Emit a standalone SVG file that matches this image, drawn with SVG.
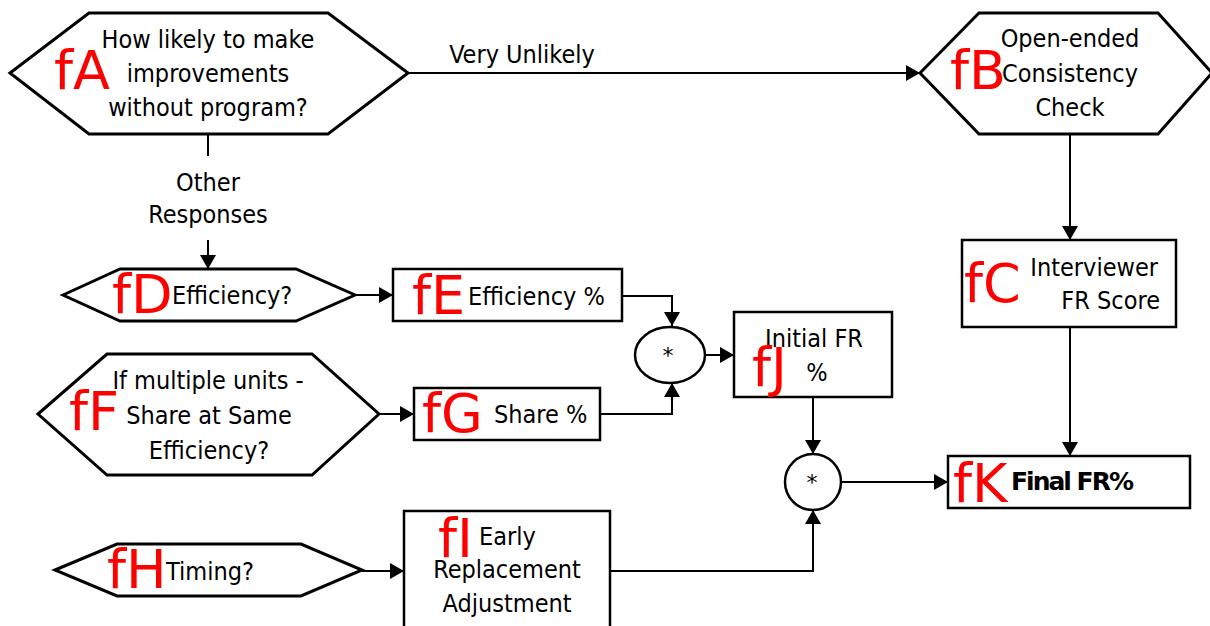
<svg xmlns="http://www.w3.org/2000/svg" width="1210" height="626" viewBox="0 0 1210 626">
  <style>
    .shape { fill: #ffffff; stroke: #000000; stroke-width: 3; stroke-linejoin: miter; }
    .box { fill: #ffffff; stroke: #000000; stroke-width: 2.5; }
    .op { fill: #ffffff; stroke: #000000; stroke-width: 2.5; }
    .wire { fill: none; stroke: #000000; stroke-width: 2; }
    .arrow { fill: none; stroke: #000000; stroke-width: 2; marker-end: url(#head); }
    .txt { font-family: "DejaVu Sans Condensed", "DejaVu Sans", sans-serif; font-stretch: condensed; font-size: 25px; fill: #000000; }
    .mid { text-anchor: middle; }
    .tag { font-family: "DejaVu Sans", sans-serif; font-size: 54px; fill: #ff0000; }
    .bold { font-family: "DejaVu Sans", sans-serif; font-weight: bold; font-size: 25px; letter-spacing: -2px; fill: #000000; }
    .star { font-family: "DejaVu Sans", sans-serif; font-size: 22px; text-anchor: middle; fill: #000000; }
  </style>
  <defs>
    <marker id="head" markerUnits="userSpaceOnUse" markerWidth="14" markerHeight="16" refX="14" refY="8" orient="auto">
      <path d="M0,0 L14,8 L0,16 Z" fill="#000000"/>
    </marker>
  </defs>

  <rect width="1210" height="626" fill="#ffffff"/>

  <!-- connectors -->
  <g id="connectors">
    <path class="arrow" d="M408,73 L920,73"/>
    <path class="wire" d="M208,134 L208,156"/>
    <path class="arrow" d="M208,240 L208,269"/>
    <path class="arrow" d="M1070,134 L1070,240"/>
    <path class="arrow" d="M1070,327 L1070,456"/>
    <path class="arrow" d="M355,295 L393,295"/>
    <path class="arrow" d="M622,296 L672,296 L672,326"/>
    <path class="arrow" d="M379,414 L414,414"/>
    <path class="arrow" d="M600,414 L672,414 L672,383"/>
    <path class="arrow" d="M705,355 L734,355"/>
    <path class="arrow" d="M813,397 L813,454"/>
    <path class="arrow" d="M362,571 L404,571"/>
    <path class="arrow" d="M610,571 L813,571 L813,510"/>
    <path class="arrow" d="M842,482 L948,482"/>
    <text class="txt mid" x="522" y="63">Very Unlikely</text>
    <text class="txt mid" x="208" y="191">Other</text>
    <text class="txt mid" x="208" y="223">Responses</text>
  </g>

  <!-- fA: decision -->
  <g id="fA">
    <polygon class="shape" points="10,73 89,13 328,13 408,73 328,134 89,134"/>
    <text class="tag" x="54" y="89">fA</text>
    <text class="txt mid" x="208" y="48">How likely to make</text>
    <text class="txt mid" x="208" y="82">improvements</text>
    <text class="txt mid" x="208" y="116">without program?</text>
  </g>

  <!-- fB: decision -->
  <g id="fB">
    <polygon class="shape" points="920,73 979,13 1158,13 1212,73 1158,134 979,134"/>
    <text class="tag" x="950" y="89">fB</text>
    <text class="txt mid" x="1070" y="47">Open-ended</text>
    <text class="txt mid" x="1070" y="82">Consistency</text>
    <text class="txt mid" x="1070" y="116">Check</text>
  </g>

  <!-- fC: process -->
  <g id="fC">
    <rect class="box" x="962" y="240" width="214" height="87"/>
    <text class="tag" x="964" y="302">fC</text>
    <text class="txt" x="1158" y="276" text-anchor="end">Interviewer</text>
    <text class="txt" x="1160" y="309" text-anchor="end">FR Score</text>
  </g>

  <!-- fD: decision -->
  <g id="fD">
    <polygon class="shape" points="63,295 120,269 296,269 355,295 296,321 120,321"/>
    <text class="tag" x="112" y="313">fD</text>
    <text class="txt" x="172" y="304">Efficiency?</text>
  </g>

  <!-- fE: process -->
  <g id="fE">
    <rect class="box" x="393" y="269" width="229" height="52"/>
    <text class="tag" x="412" y="314">fE</text>
    <text class="txt" x="468" y="305">Efficiency %</text>
  </g>

  <!-- fF: decision -->
  <g id="fF">
    <polygon class="shape" points="38,414 107,354 312,354 379,414 312,475 107,475"/>
    <text class="tag" x="69" y="430">fF</text>
    <text class="txt mid" x="208" y="389">If multiple units -</text>
    <text class="txt mid" x="209" y="424">Share at Same</text>
    <text class="txt mid" x="209" y="459">Efficiency?</text>
  </g>

  <!-- fG: process -->
  <g id="fG">
    <rect class="box" x="414" y="388" width="186" height="52"/>
    <text class="tag" x="422" y="432">fG</text>
    <text class="txt" x="494" y="423">Share %</text>
  </g>

  <!-- first product -->
  <g id="mul1">
    <ellipse class="op" cx="670" cy="355" rx="35" ry="28"/>
    <text class="star" x="668" y="363">*</text>
  </g>

  <!-- fJ: process -->
  <g id="fJ">
    <rect class="box" x="734" y="312" width="158" height="85"/>
    <text class="txt mid" x="814" y="347">Initial FR</text>
    <text class="tag" x="752" y="386">fJ</text>
    <text class="txt mid" x="817" y="381">%</text>
  </g>

  <!-- second product -->
  <g id="mul2">
    <circle class="op" cx="813" cy="482" r="28"/>
    <text class="star" x="812" y="490">*</text>
  </g>

  <!-- fH: decision -->
  <g id="fH">
    <polygon class="shape" points="55,570 117,544 301,544 362,570 301,596 117,596"/>
    <text class="tag" x="107" y="588">fH</text>
    <text class="txt" x="166" y="580">Timing?</text>
  </g>

  <!-- fI: process -->
  <g id="fI">
    <rect class="box" x="404" y="511" width="206" height="130"/>
    <text class="tag" x="438" y="557">fI</text>
    <text class="txt" x="479" y="545">Early</text>
    <text class="txt mid" x="507" y="578">Replacement</text>
    <text class="txt mid" x="507" y="612">Adjustment</text>
  </g>

  <!-- fK: result -->
  <g id="fK">
    <rect class="box" x="948" y="456" width="242" height="52"/>
    <text class="tag" x="953" y="502">fK</text>
    <text class="bold" x="1011" y="490">Final FR%</text>
  </g>
</svg>
